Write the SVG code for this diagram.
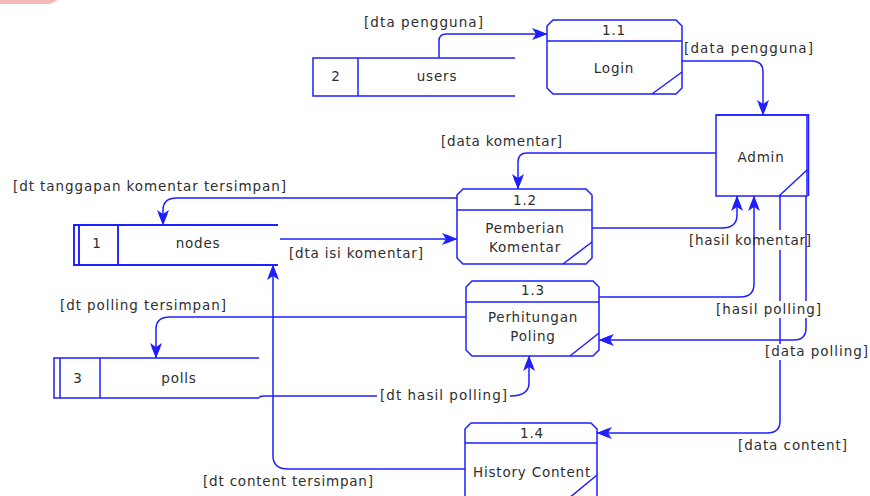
<svg xmlns="http://www.w3.org/2000/svg" width="870" height="496" viewBox="0 0 870 496">
<defs>
<style>
.ln{fill:none;stroke:#1f1fff;stroke-width:1.5}
.arr{fill:none;stroke:#1f1fff;stroke-width:1.5;marker-end:url(#ah)}
.box{fill:#fff;stroke:#1f1fff;stroke-width:1.5}
.st{fill:none;stroke:#1f1fff;stroke-width:1.9}
.t{font-family:"DejaVu Sans",Verdana,sans-serif;font-size:13.5px;fill:#2e2e2e;letter-spacing:0.8px}
.c{text-anchor:middle}
.lb{font-family:"DejaVu Sans",Verdana,sans-serif;font-size:13.5px;fill:#2e2e2e}
.bg{fill:#fff}
</style>
<marker id="ah" markerUnits="userSpaceOnUse" viewBox="0 -6 16 12" markerWidth="16" markerHeight="12" refX="15" refY="0" orient="auto">
<path d="M15,0 L0,-6 L4,0 L0,6 Z" fill="#1f1fff"/>
<path d="M4,-4.5 L15,0 L4,4.5 Z" fill="#1f1fff"/>
</marker>
</defs>
<rect width="870" height="496" fill="#fff"/>
<polygon points="0,0 58,0 50,4 0,4" fill="#f4b8b8"/>
<g id="connectors">
<path class="arr" d="M439,58 V41 Q439,34 446,34 H547"/>
<path class="arr" d="M682,61 H752 Q763,61 763,72 V115"/>
<path class="arr" d="M716,153 H527 Q518,153 518,162 V189"/>
<path class="arr" d="M457,198 H177 Q163,198 163,210 V225"/>
<path class="arr" d="M280,239 H457"/>
<path class="arr" d="M465,469 H288 Q273,469 273,456 V265"/>
<path class="arr" d="M592,228 H722 Q737,228 737,215 V196"/>
<path class="arr" d="M599,297 H740 Q754,297 754,284 V196"/>
<path class="arr" d="M806,196 V328 Q806,340 794,340 H599"/>
<path class="arr" d="M780,196 V421 Q780,433 767,433 H597"/>
<path class="arr" d="M466,317 H170 Q156,317 156,329 V358"/>
<path class="arr" d="M258,398 Q260,396 264,396 H510 Q529,396 529,383 V356"/>
</g>
<g id="store-users">
<rect x="313" y="58" width="202" height="38" fill="#fff"/>
<path class="ln" d="M515,58 H313 V96 H515 M358,58 V96"/>
<text class="t c" x="336" y="81">2</text>
<text class="t c" x="437" y="81">users</text>
</g>
<g id="store-nodes">
<rect x="74" y="225" width="204" height="40" fill="#fff"/>
<path class="st" d="M278,225 H74 V265 H278 M79,225 V265 M118,225 V265"/>
<text class="t c" x="97" y="248">1</text>
<text class="t c" x="198" y="248">nodes</text>
</g>
<g id="store-polls">
<rect x="54" y="358" width="205" height="40" fill="#fff"/>
<path class="ln" d="M259,358 H54 V398 H259 M60,358 V398 M100,358 V398"/>
<text class="t c" x="78" y="383">3</text>
<text class="t c" x="179" y="383">polls</text>
</g>
<g id="p11">
<path class="box" d="M553,20 H676 L682,26 V88 L676,94 H553 L547,88 V26 Z"/>
<path class="ln" d="M547,41 H682 M652,94 L682,72"/>
<text class="t c" x="614" y="35">1.1</text>
<text class="t c" x="614" y="73">Login</text>
</g>
<g id="admin">
<rect class="box" x="716" y="115" width="91" height="81"/>
<path class="ln" d="M716,115 H808" stroke-width="2.2"/>
<path class="ln" d="M808.5,114 V196" stroke-width="3.2"/>
<path class="ln" d="M779,196 L807,170"/>
<text class="t c" x="761" y="162">Admin</text>
</g>
<g id="p12">
<path class="box" d="M463,189 H586 L592,195 V258 L586,264 H463 L457,258 V195 Z"/>
<path class="ln" d="M457,210 H592 M563,264 L592,242"/>
<text class="t c" x="525" y="205">1.2</text>
<text class="t c" x="525" y="233">Pemberian</text>
<text class="t c" x="525" y="252">Komentar</text>
</g>
<g id="p13">
<path class="box" d="M472,281 H593 L599,287 V350 L593,356 H472 L466,350 V287 Z"/>
<path class="ln" d="M466,302 H599 M570,356 L599,333"/>
<text class="t c" x="533" y="295">1.3</text>
<text class="t c" x="533" y="322">Perhitungan</text>
<text class="t c" x="533" y="341">Poling</text>
</g>
<g id="p14">
<path class="box" d="M471,423 H591 L597,429 V500 H465 V429 Z"/>
<path class="ln" d="M465,443 H597 M568,499 L597,475"/>
<text class="t c" x="532" y="438">1.4</text>
<text class="t c" x="532" y="477">History Content</text>
</g>
<g id="labels">
<rect class="bg" x="772" y="230" width="16" height="20"/>
<rect class="bg" x="714" y="301" width="109" height="17"/>
<rect class="bg" x="763" y="344" width="107" height="16"/>
<rect class="bg" x="377" y="388" width="133" height="16"/>
<text class="lb" x="364" y="27" textLength="119">[dta pengguna]</text>
<text class="lb" x="684" y="53" textLength="129">[data pengguna]</text>
<text class="lb" x="441" y="146" textLength="121">[data komentar]</text>
<text class="lb" x="13" y="191" textLength="273">[dt tanggapan komentar tersimpan]</text>
<text class="lb" x="289" y="258" textLength="134">[dta isi komentar]</text>
<text class="lb" x="689" y="245" textLength="122">[hasil komentar]</text>
<text class="lb" x="60" y="310" textLength="166">[dt polling tersimpan]</text>
<text class="lb" x="716" y="314" textLength="105">[hasil polling]</text>
<text class="lb" x="765" y="356" textLength="103">[data polling]</text>
<text class="lb" x="380" y="400" textLength="127">[dt hasil polling]</text>
<text class="lb" x="203" y="486" textLength="170">[dt content tersimpan]</text>
<text class="lb" x="738" y="450" textLength="109">[data content]</text>
</g>
</svg>
